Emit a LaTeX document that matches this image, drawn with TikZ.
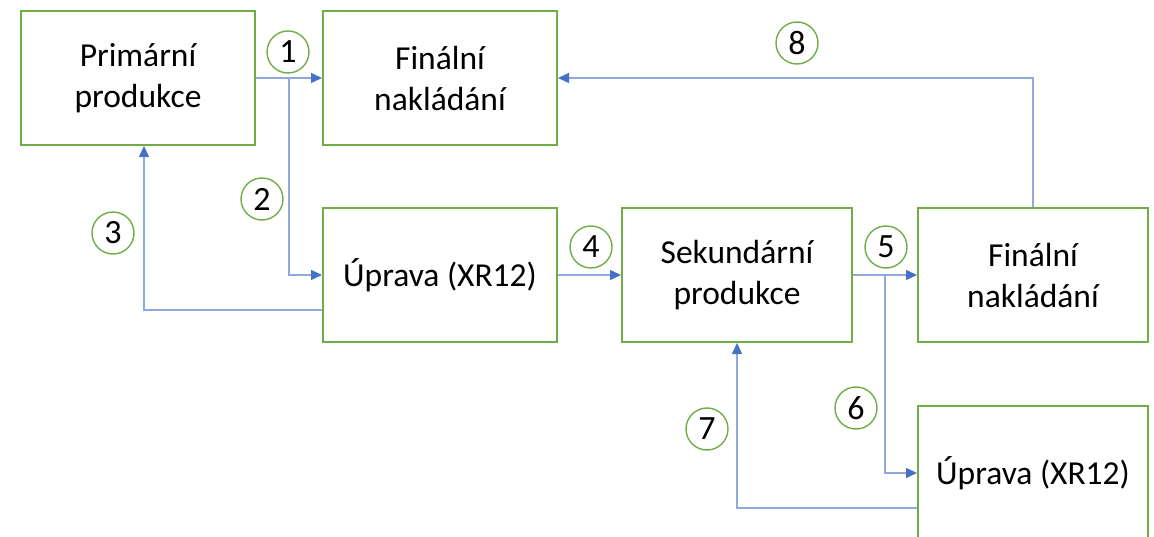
\documentclass[tikz,border=0pt]{standalone}
\usepackage{fontspec}
\setmainfont{Carlito}
\usetikzlibrary{arrows.meta,calc}
\definecolor{boxgreen}{HTML}{70AD47}
\definecolor{flowblue}{HTML}{4472C4}
\definecolor{flowline}{HTML}{8EA9DB}
\begin{document}
\begin{tikzpicture}[x=1pt,y=-1pt,
  stage/.style={draw=boxgreen, line width=2pt, minimum width=234pt, minimum height=134pt,
    align=center, inner sep=0pt, font=\fontsize{33.5}{41}\selectfont},
  flow/.style={draw=flowline, line width=1.4pt,
    -{Triangle[length=11pt,width=10pt,color=flowblue]}},
  num/.style={circle, draw=boxgreen, line width=1.4pt, minimum size=42pt, inner sep=0pt,
    fill=white, font=\fontsize{34}{34}\selectfont}]
\useasboundingbox (0,0) rectangle (1154,537);
\clip (0,0) rectangle (1154,537);

% process stages
\node[stage] (A) at (138,78)  {Primární\\produkce};
\node[stage] (B) at (440,78)  {Finální\\nakládání};
\node[stage] (C) at (440,275) {Úprava (XR12)};
\node[stage, minimum width=230pt] (D) at (737,275)  {Sekundární\\produkce};
\node[stage, minimum width=230pt] (E) at (1033,275) {Finální\\nakládání};
\node[stage, minimum width=230pt] (F) at (1033,473) {Úprava (XR12)};

% branch points
\coordinate (b1) at ($(A.east)!0.5!(B.west)$);
\coordinate (b2) at ($(D.east)!0.5!(E.west)$);

% flows
\draw[flow] (A.east) -- (B.west);
\draw[flow] (b1) |- (C.west);
\draw[flow] ([yshift=-35pt]C.west) -| ([xshift=6pt]A.south);
\draw[flow] (C.east) -- (D.west);
\draw[flow] (D.east) -- (E.west);
\draw[flow] (b2) |- (F.west);
\draw[flow] ([yshift=-35pt]F.west) -| (D.south);
\draw[flow] (E.north) |- (B.east);

% flow numbers
\node[num] (n1) at (288,52)  {1};
\node[num] (n2) at (262,199) {2};
\node[num] (n3) at (113,233) {3};
\node[num] (n4) at (591,247) {4};
\node[num] (n5) at (886,247) {5};
\node[num] (n6) at (856,408) {6};
\node[num] (n7) at (707,429) {7};
\node[num] (n8) at (797,43)  {8};
\end{tikzpicture}
\end{document}
